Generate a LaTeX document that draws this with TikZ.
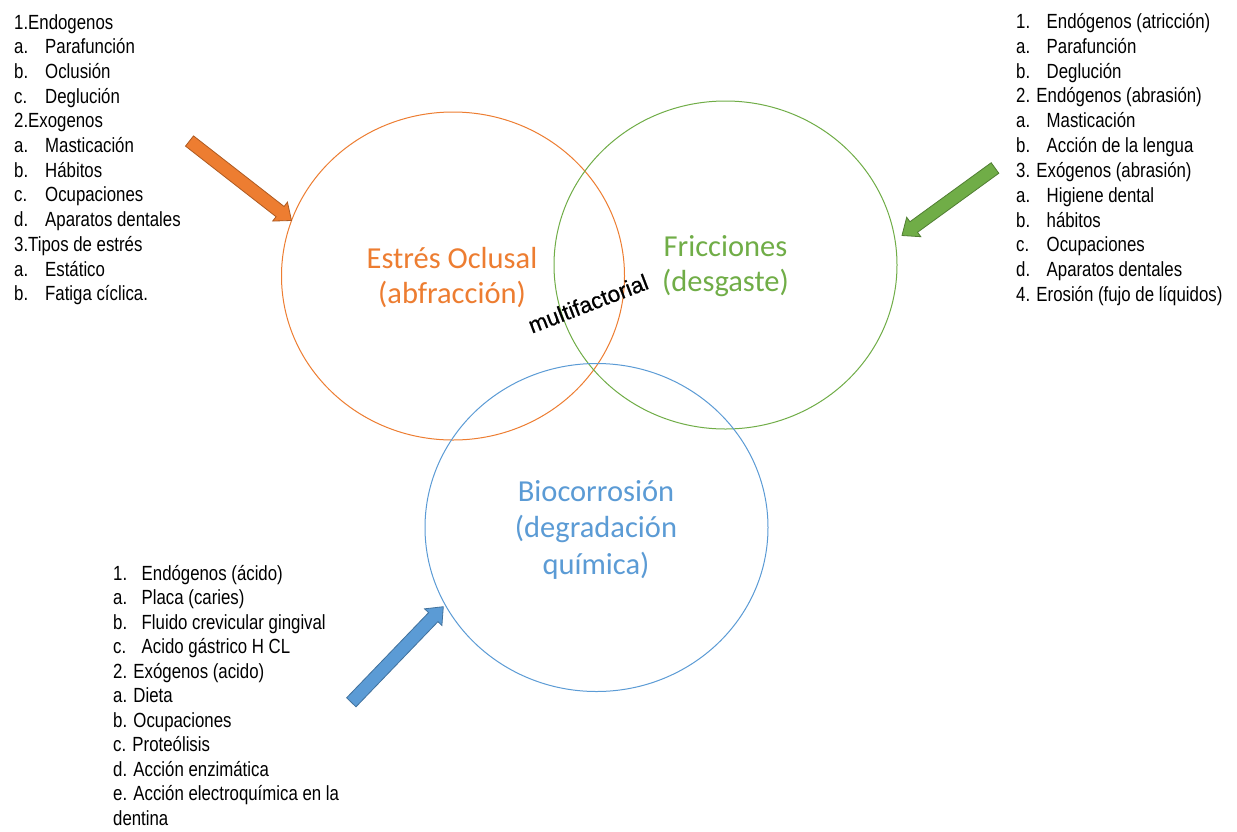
\documentclass[tikz,border=0pt]{standalone}
\usepackage{fontspec}
\usetikzlibrary{calc,shapes.geometric}
\newfontfamily\narrowfont[FakeStretch=0.82]{Liberation Sans}
\newfontfamily\calibfont{Carlito}
\newfontfamily\arialfont[FakeBold=0.6]{Liberation Sans}
\definecolor{orng}{HTML}{ED7D31}
\definecolor{orngdk}{HTML}{AE5A21}
\definecolor{grn}{HTML}{70AD47}
\definecolor{grndk}{HTML}{507E32}
\definecolor{blu}{HTML}{5B9BD5}
\definecolor{bludk}{HTML}{41719C}
\newcommand{\tabL}[1]{\makebox[31pt][l]{#1}}
\newcommand{\tabR}[1]{\makebox[30.5pt][l]{#1}}
\newcommand{\tabB}[1]{\makebox[28.5pt][l]{#1}}
\newcommand{\blockarrow}[4]{%
  \path ($(#2)!14.5pt!(#1)$) coordinate (#2-c);
  \filldraw[fill=#3, draw=#4, line width=0.8pt, line join=miter]
    ($(#1)!6.5pt!90:(#2)$) -- ($(#2-c)!6.5pt!90:(#2)$) -- ($(#2-c)!12pt!90:(#2)$)
    -- (#2) -- ($(#2-c)!12pt!-90:(#2)$) -- ($(#2-c)!6.5pt!-90:(#2)$)
    -- ($(#1)!6.5pt!-90:(#2)$) -- cycle;}
\tikzset{
  listline/.style={anchor=base west, inner sep=0pt, font=\narrowfont\fontsize{20.5}{24}\selectfont},
  venn/.style={ellipse, draw=#1, line width=1pt, minimum width=343pt, minimum height=328pt, inner sep=0pt},
  venntxt/.style={anchor=base, inner sep=0pt, text=#1, font=\calibfont\fontsize{30.5}{36}\selectfont},
  multi/.style={anchor=base, inner sep=0pt, font=\arialfont\fontsize{22.5}{24}\selectfont}
}
\begin{document}
\begin{tikzpicture}[x=1pt,y=-1pt]
\useasboundingbox (0,0) rectangle (1237,831);
\fill[white] (0,0) rectangle (1237,831);
% circles
\node[venn=orng] (orangeC) at (453,276) {};
\node[venn=grn] (greenC) at (725.5,265) {};
\node[venn=blu] (blueC) at (596.5,527.5) {};
% circle labels
\node[venntxt=orng] (o1) at (452,268) {Estrés Oclusal};
\node[venntxt=orng] (o2) at (452,303.5) {(abfracción)};
\node[venntxt=grn] (g1) at (725.5,256) {Fricciones};
\node[venntxt=grn] (g2) at (725.5,291.7) {(desgaste)};
\node[venntxt=blu] (b1) at (596,501) {Biocorrosión};
\node[venntxt=blu] (b2) at (596,537.3) {(degradación};
\node[venntxt=blu] (b3) at (596,574) {química)};
\node[multi, rotate=21] (mf) at (591,311) {multifactorial};
% arrows
\coordinate (oT) at (189.5,141);
\coordinate (oH) at (291.5,220.5);
\coordinate (gT) at (995,168);
\coordinate (gH) at (902,235.5);
\coordinate (bT) at (351.3,702.3);
\coordinate (bH) at (443.3,606.7);
\blockarrow{oT}{oH}{orng}{orngdk}
\blockarrow{gT}{gH}{grn}{grndk}
\blockarrow{bT}{bH}{blu}{bludk}
% left list
\foreach \t [count=\i from 0] in {{1.Endogenos},{\tabL{a.}Parafunción},{\tabL{b.}Oclusión},{\tabL{c.}Deglución},{2.Exogenos},{\tabL{a.}Masticación},{\tabL{b.}Hábitos},{\tabL{c.}Ocupaciones},{\tabL{d.}Aparatos dentales},{3.Tipos de estrés},{\tabL{a.}Estático},{\tabL{b.}Fatiga cíclica.}}
  \node[listline] (L\i) at (14,{29.3+\i*24.67}) {\t};
% right list
\foreach \t [count=\i from 0] in {{\tabR{1.}Endógenos (atricción)},{\tabR{a.}Parafunción},{\tabR{b.}Deglución},{2. Endógenos (abrasión)},{\tabR{a.}Masticación},{\tabR{b.}Acción de la lengua},{3. Exógenos (abrasión)},{\tabR{a.}Higiene dental},{\tabR{b.}hábitos},{\tabR{c.}Ocupaciones},{\tabR{d.}Aparatos dentales},{4. Erosión (fujo de líquidos)}}
  \node[listline] (R\i) at (1016,{28.3+\i*24.85}) {\t};
% bottom list
\foreach \t [count=\i from 0] in {{\tabB{1.}Endógenos (ácido)},{\tabB{a.}Placa (caries)},{\tabB{b.}Fluido crevicular gingival},{\tabB{c.}Acido gástrico H CL},{2. Exógenos (acido)},{a. Dieta},{b. Ocupaciones},{c. Proteólisis},{d. Acción enzimática},{e. Acción electroquímica en la},{dentina}}
  \node[listline] (B\i) at (113,{580+\i*24.5}) {\t};
\end{tikzpicture}
\end{document}
